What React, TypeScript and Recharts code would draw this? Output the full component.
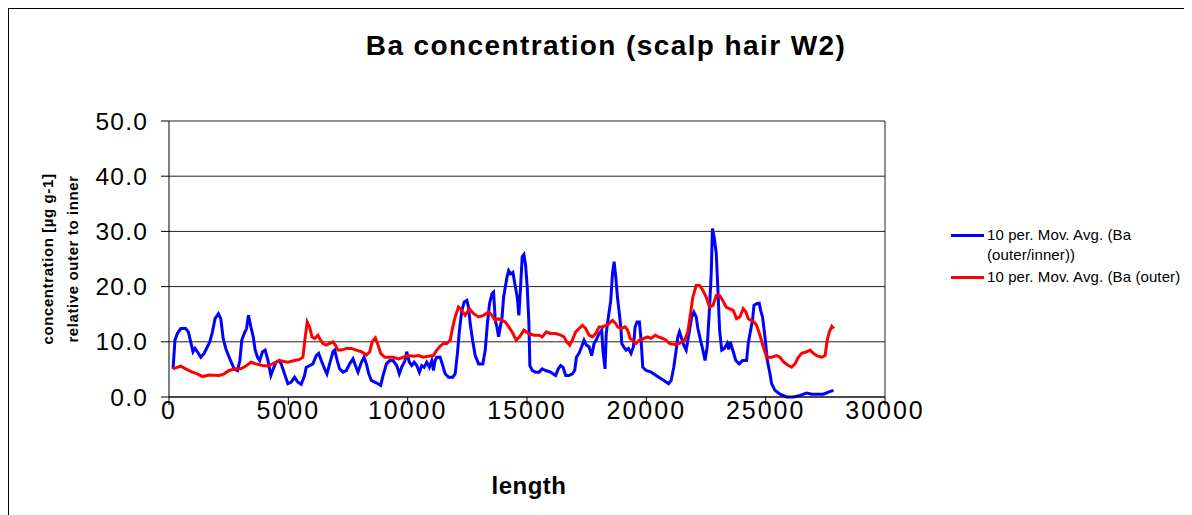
import { LineChart, Line, XAxis, YAxis, CartesianGrid, ReferenceLine } from 'recharts';

// [length, value] pairs
const blueSeries: [number, number][] = [
  [170, 5.1], [250, 10.3], [350, 11.5], [490, 12.4], [700, 12.4], [810, 11.8], [910, 10.0], [1005, 8.2], [1090, 8.8],
  [1190, 8.2], [1330, 7.2], [1470, 7.9], [1610, 9.1], [1710, 10.0], [1820, 11.8], [1930, 14.2], [2070, 15.1], [2170, 14.2],
  [2270, 10.6], [2380, 8.8], [2520, 7.2], [2730, 5.1], [2870, 4.8], [2970, 6.6], [3050, 10.3], [3150, 11.5], [3250, 12.4],
  [3330, 14.8], [3430, 12.7], [3530, 10.9], [3610, 8.5], [3710, 7.2], [3800, 6.6], [3920, 8.2], [4030, 8.5], [4130, 6.9],
  [4200, 5.4], [4270, 3.9], [4370, 5.1], [4480, 6.3], [4620, 6.6], [4700, 6.0], [4840, 4.2], [4980, 2.4], [5120, 2.7],
  [5260, 3.6], [5400, 2.7], [5540, 2.3], [5680, 3.9], [5750, 5.4], [5890, 5.7], [6030, 6.0], [6170, 7.5], [6270, 7.9],
  [6380, 6.6], [6520, 5.1], [6620, 4.2], [6730, 6.0], [6870, 8.2], [6940, 8.5], [7050, 6.6], [7150, 5.1], [7290, 4.5],
  [7430, 4.8], [7570, 6.0], [7710, 6.9], [7810, 5.7], [7920, 4.5], [8060, 6.3], [8170, 7.2], [8270, 6.0], [8370, 4.2],
  [8480, 3.0], [8620, 2.7], [8760, 2.4], [8870, 2.1], [8970, 3.9], [9110, 6.0], [9250, 6.6], [9390, 6.6], [9540, 5.7],
  [9650, 4.2], [9750, 5.4], [9890, 6.6], [9960, 8.2], [10070, 6.3], [10170, 5.7], [10270, 6.3], [10380, 5.7], [10490, 4.5],
  [10590, 5.7], [10690, 5.4], [10800, 6.3], [10910, 5.4], [11010, 6.6], [11080, 4.8], [11150, 6.6], [11220, 7.2],
  [11360, 7.2], [11470, 5.7], [11570, 4.2], [11710, 3.6], [11890, 3.6], [11990, 4.2], [12085, 7.9], [12170, 12.1],
  [12270, 15.7], [12370, 17.2], [12480, 17.5], [12550, 16.3], [12620, 13.3], [12720, 10.3], [12830, 7.5], [12970, 6.0],
  [13150, 6.0], [13250, 8.5], [13340, 13.3], [13430, 16.9], [13530, 18.7], [13600, 19.0], [13670, 13.9], [13740, 12.7],
  [13810, 10.9], [13880, 12.7], [13950, 14.2], [14020, 18.1], [14090, 19.9], [14160, 21.7], [14230, 22.9], [14310, 22.3],
  [14410, 22.6], [14490, 20.5], [14590, 18.1], [14660, 14.8], [14730, 19.9], [14800, 25.4], [14870, 25.8], [14940, 23.9],
  [15010, 19.9], [15080, 13.3], [15120, 5.7], [15220, 4.8], [15360, 4.5], [15500, 4.5], [15640, 5.1], [15780, 4.8],
  [15990, 4.5], [16200, 3.9], [16310, 5.1], [16410, 5.7], [16510, 5.4], [16620, 3.9], [16760, 3.9], [16900, 4.2],
  [17000, 4.8], [17070, 7.2], [17180, 7.9], [17290, 9.1], [17390, 10.3], [17490, 9.4], [17600, 9.1], [17710, 7.5],
  [17810, 9.7], [17900, 10.3], [18020, 11.5], [18130, 12.1], [18180, 8.5], [18270, 5.1], [18320, 11.5], [18410, 14.5],
  [18510, 17.5], [18580, 22.3], [18650, 24.5], [18720, 21.7], [18790, 18.1], [18870, 15.1], [18940, 12.1], [18970, 9.7],
  [19050, 9.1], [19150, 8.5], [19250, 8.8], [19360, 7.9], [19460, 9.1], [19530, 12.7], [19610, 13.6], [19710, 13.6],
  [19780, 10.3], [19850, 5.4], [19990, 4.8], [20200, 4.5], [20410, 3.9], [20620, 3.3], [20830, 2.7], [20930, 2.4],
  [21040, 3.0], [21150, 5.4], [21250, 8.5], [21320, 10.9], [21390, 11.8], [21480, 10.6], [21570, 9.4], [21670, 8.5],
  [21740, 10.3], [21810, 12.1], [21900, 14.5], [21990, 15.4], [22090, 14.5], [22160, 12.4], [22270, 10.3], [22370, 8.5],
  [22460, 6.6], [22550, 9.1], [22650, 16.3], [22720, 22.5], [22770, 30.5], [22840, 29.0], [22930, 26.0], [23000, 19.3],
  [23070, 12.1], [23160, 8.5], [23270, 8.8], [23390, 9.7], [23450, 8.6], [23520, 10.0], [23640, 8.2], [23750, 6.6],
  [23890, 6.0], [24030, 6.6], [24200, 6.6], [24270, 9.7], [24370, 12.1], [24450, 13.9], [24510, 16.6], [24620, 16.9],
  [24730, 17.0], [24790, 15.7], [24870, 14.5], [24970, 10.9], [25070, 6.6], [25180, 4.2], [25250, 2.4], [25390, 1.2],
  [25600, 0.5], [25880, 0.0], [26160, 0.0], [26440, 0.3], [26720, 0.7], [26930, 0.5], [27210, 0.5], [27420, 0.5],
  [27630, 0.9], [27840, 1.2],
];

const redSeries: [number, number][] = [
  [170, 5.1], [490, 5.6], [700, 5.1], [980, 4.5], [1190, 4.2], [1400, 3.7], [1680, 4.0], [2100, 3.9], [2310, 4.2],
  [2520, 4.8], [2800, 5.1], [3010, 5.1], [3220, 5.6], [3430, 6.3], [3640, 6.0], [3920, 5.7], [4130, 5.6], [4340, 6.0],
  [4620, 6.6], [4980, 6.3], [5260, 6.6], [5470, 6.8], [5610, 7.2], [5710, 10.9], [5790, 13.6], [5890, 12.7], [5990, 10.9],
  [6100, 10.6], [6240, 11.2], [6350, 10.3], [6450, 9.7], [6590, 9.4], [6730, 9.7], [6870, 10.0], [6970, 9.4], [7080, 8.5],
  [7220, 8.5], [7430, 8.8], [7640, 8.8], [7850, 8.5], [8060, 8.2], [8270, 7.6], [8410, 8.2], [8510, 10.0], [8650, 10.7],
  [8760, 9.4], [8870, 7.9], [9040, 7.2], [9250, 7.2], [9400, 7.2], [9610, 6.9], [9820, 7.2], [10030, 7.5], [10240, 7.4],
  [10450, 7.5], [10660, 7.2], [10870, 7.4], [11080, 7.5], [11220, 8.5], [11360, 9.2], [11500, 9.7], [11640, 9.7],
  [11780, 10.3], [11890, 12.7], [11990, 14.5], [12130, 16.3], [12270, 15.7], [12410, 14.8], [12590, 16.0], [12760, 15.1],
  [12970, 14.5], [13180, 14.8], [13390, 15.4], [13530, 14.8], [13670, 13.9], [13810, 14.2], [13950, 13.9], [14090, 13.6],
  [14240, 12.7], [14410, 11.5], [14550, 10.3], [14690, 10.9], [14870, 12.1], [15080, 11.5], [15290, 11.2], [15500, 11.2],
  [15640, 10.9], [15810, 11.8], [15990, 11.5], [16200, 11.5], [16410, 11.2], [16550, 10.9], [16660, 10.0], [16790, 9.4],
  [16900, 10.3], [17040, 11.8], [17180, 12.4], [17320, 13.0], [17460, 12.4], [17600, 11.2], [17740, 10.9], [17880, 11.5],
  [18020, 12.7], [18160, 12.7], [18300, 13.0], [18440, 13.3], [18580, 13.9], [18720, 13.3], [18800, 12.7], [18940, 12.4],
  [19110, 12.7], [19220, 12.1], [19320, 10.6], [19430, 10.3], [19570, 9.7], [19710, 10.3], [19890, 10.6], [20060, 10.9],
  [20200, 10.6], [20370, 11.2], [20510, 10.9], [20690, 10.6], [20830, 10.3], [20970, 9.7], [21180, 9.5], [21390, 9.7],
  [21600, 10.3], [21740, 11.8], [21850, 15.1], [21950, 18.1], [22090, 20.2], [22230, 20.2], [22370, 19.3], [22510, 18.1],
  [22650, 16.3], [22790, 16.6], [22930, 18.4], [23070, 18.4], [23200, 17.5], [23340, 16.3], [23480, 16.0], [23640, 15.7],
  [23780, 14.2], [23920, 14.5], [24060, 16.0], [24170, 15.4], [24270, 14.2], [24370, 13.9], [24510, 13.6], [24620, 13.0],
  [24760, 11.2], [24900, 9.1], [25040, 7.2], [25250, 7.2], [25460, 7.5], [25600, 7.2], [25760, 6.3], [25950, 5.7],
  [26090, 5.4], [26230, 6.0], [26370, 7.2], [26510, 7.9], [26720, 8.2], [26860, 8.5], [27000, 7.9], [27140, 7.5],
  [27350, 7.2], [27490, 7.5], [27580, 10.3], [27670, 11.8], [27770, 12.8], [27860, 12.4],
];

const xTicks = [0, 5000, 10000, 15000, 20000, 25000, 30000];
const yTicks = [0, 10, 20, 30, 40, 50];

const seriesNames = ['10 per. Mov. Avg. (Ba (outer/inner))', '10 per. Mov. Avg. (Ba (outer)'];

const blueData = blueSeries.map(([len, v]) => ({ len, v }));
const redData = redSeries.map(([len, v]) => ({ len, v }));

const FONT = 'Arial, "Liberation Sans", sans-serif';

export default function App() {
  return (
    <div
      style={{
        position: 'relative',
        width: 1183,
        height: 506,
        overflow: 'hidden',
        borderLeft: '1px solid #000',
        borderTop: '1px solid #000',
        fontFamily: FONT,
        color: '#000',
      }}
    >
      <div style={{ position: 'absolute', left: 0, width: 1194, top: 21, textAlign: 'center', fontSize: 28, fontWeight: 'bold', letterSpacing: 1.4 }}>
        Ba concentration (scalp hair W2)
      </div>

      <LineChart width={1183} height={506} data={blueData} margin={{ top: 112, right: 307, left: 100, bottom: 78 }}>
        <CartesianGrid vertical={false} stroke="#222" />
        <XAxis
          dataKey="len"
          type="number"
          domain={[0, 30000]}
          ticks={xTicks}
          allowDataOverflow
          stroke="#000"
          tickSize={8}
          tickMargin={-4}
          height={40}
          tick={{ fill: '#000', fontSize: 25, fontFamily: FONT, letterSpacing: 2 }}
        />
        <YAxis
          domain={[0, 50]}
          ticks={yTicks}
          width={60}
          stroke="#000"
          tickSize={8}
          tickMargin={13}
          tickFormatter={(v: number) => v.toFixed(1)}
          tick={{ fill: '#000', fontSize: 24.5, fontFamily: FONT, letterSpacing: 1.2 }}
        />
        <ReferenceLine x={30000} stroke="#222" />
        <Line data={blueData} dataKey="v" stroke="#0000ff" strokeWidth={3} dot={false} type="linear" isAnimationActive={false} />
        <Line data={redData} dataKey="v" stroke="#ff0000" strokeWidth={3} dot={false} type="linear" isAnimationActive={false} />
      </LineChart>

      <div style={{ position: 'absolute', left: 0, width: 1040, top: 463, textAlign: 'center', fontSize: 24, fontWeight: 'bold', letterSpacing: 0.5 }}>
        length
      </div>

      <div style={{ position: 'absolute', left: 51, top: 250, width: 0, height: 0 }}>
        <div
          style={{
            position: 'absolute',
            transform: 'translate(-50%, -50%) rotate(-90deg)',
            whiteSpace: 'nowrap',
            textAlign: 'center',
            fontSize: 15,
            fontWeight: 'bold',
            letterSpacing: 0.6,
            lineHeight: '25px',
          }}
        >
          concentration [µg g-1]
          <br />
          relative outer to inner
        </div>
      </div>

      <div style={{ position: 'absolute', left: 942, top: 216, fontSize: 15, letterSpacing: 0.1, lineHeight: '20px' }}>
        <div style={{ display: 'flex' }}>
          <span style={{ width: 33, height: 3, background: '#0000ff', marginTop: 9, marginRight: 3, flex: 'none' }} />
          <span style={{ width: 200 }}>{seriesNames[0].replace('(outer/inner))', '')}<br />(outer/inner))</span>
        </div>
        <div style={{ display: 'flex', marginTop: 2 }}>
          <span style={{ width: 33, height: 3, background: '#ff0000', marginTop: 9, marginRight: 3, flex: 'none' }} />
          <span style={{ whiteSpace: 'nowrap' }}>{seriesNames[1]}</span>
        </div>
      </div>
    </div>
  );
}
